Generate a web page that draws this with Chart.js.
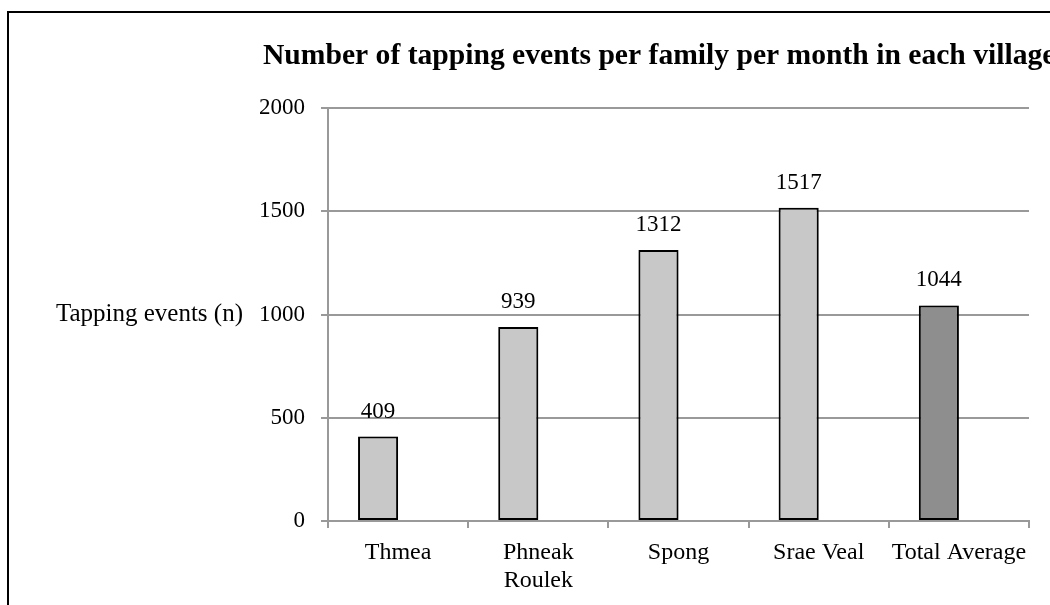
<!DOCTYPE html>
<html>
<head>
<meta charset="utf-8">
<script src="https://cdn.jsdelivr.net/npm/chart.js@4.4.1/dist/chart.umd.min.js"></script>
<style>
  html, body { margin: 0; padding: 0; background: #fff; overflow: hidden; }
  #wrap { position: relative; width: 1050px; height: 605px; overflow: hidden; }
  #frame { position: absolute; left: 7px; top: 11px; width: 1200px; height: 800px; border: 2px solid #000; }
  #c { position: absolute; left: 0; top: 0; }
</style>
</head>
<body>
<div id="wrap">
  <div id="frame"></div>
  <canvas id="c" width="1050" height="605"></canvas>
</div>
<script>
// Villages and the overall average
const categories = ['Thmea', ['Phneak', 'Roulek'], 'Spong', 'Srae Veal', 'Total Average'];
// Tapping events per family per month
const tappingEvents = [409, 939, 1312, 1517, 1044];
const barColors = ['#c8c8c8', '#c8c8c8', '#c8c8c8', '#c8c8c8', '#8e8e8e'];
const yTicks = [0, 500, 1000, 1500, 2000];
const emptySeries = [null, null, null, null, null];

const chartTitle = 'Number of tapping events per family per month in each village';
const yTitle = 'Tapping events (n)';
const serif = '"Liberation Serif", "Times New Roman", serif';

// Title, horizontal axis label and value labels drawn on the canvas
const annotations = {
  id: 'annotations',
  beforeDatasetsDraw(chart) {
    const ctx = chart.ctx;
    ctx.save();
    ctx.shadowColor = 'rgba(0,0,0,0.35)';
    ctx.shadowBlur = 7;
    ctx.shadowOffsetX = 1;
    ctx.shadowOffsetY = 1;
  },
  afterDatasetsDraw(chart) {
    chart.ctx.restore();
  },
  afterDraw(chart) {
    const ctx = chart.ctx;
    const area = chart.chartArea;
    ctx.save();
    ctx.fillStyle = '#000';
    // chart title
    ctx.font = 'bold 29.6px ' + serif;
    ctx.textAlign = 'left';
    ctx.textBaseline = 'middle';
    ctx.fillText(chartTitle, 263, 56);
    // y axis title, horizontal
    ctx.font = '25px ' + serif;
    ctx.textAlign = 'right';
    ctx.fillText(yTitle, 243, (area.top + area.bottom) / 2);
    // value labels above bars
    const meta = chart.getDatasetMeta(0);
    ctx.font = '23px ' + serif;
    ctx.textAlign = 'center';
    ctx.textBaseline = 'alphabetic';
    meta.data.forEach((bar, i) => {
      ctx.fillText(String(tappingEvents[i]), bar.x, bar.y - 19);
    });
    ctx.restore();
  }
};

new Chart(document.getElementById('c'), {
  type: 'bar',
  data: {
    labels: categories,
    datasets: [
      {
        data: tappingEvents,
        backgroundColor: barColors,
        borderColor: '#000',
        borderWidth: 2,
        borderSkipped: false,
        categoryPercentage: 80 / 140,
        barPercentage: 1
      },
      {
        data: emptySeries,
        backgroundColor: 'rgba(0,0,0,0)',
        categoryPercentage: 80 / 140,
        barPercentage: 1
      }
    ]
  },
  options: {
    responsive: false,
    animation: false,
    events: [],
    layout: { padding: { left: 0, right: 21, top: 108, bottom: 0 } },
    plugins: {
      legend: { display: false },
      title: { display: false },
      tooltip: { enabled: false }
    },
    scales: {
      x: {
        grid: {
          offset: true,
          drawOnChartArea: false,
          drawTicks: true,
          tickLength: 7,
          color: '#999',
          lineWidth: 2
        },
        border: { display: true, color: '#999', width: 2 },
        ticks: {
          color: '#000',
          font: { family: serif, size: 24, lineHeight: 1.17 },
          padding: 11,
          maxRotation: 0,
          autoSkip: false
        },
        afterFit(scale) { scale.height = 605 - 521; }
      },
      y: {
        min: 0,
        max: 2000,
        afterBuildTicks(scale) { scale.ticks = yTicks.map(v => ({ value: v })); },
        grid: {
          drawTicks: true,
          tickLength: 7,
          color: '#999',
          lineWidth: 2
        },
        border: { display: true, color: '#999', width: 2 },
        ticks: {
          color: '#000',
          font: { family: serif, size: 23 },
          padding: 16,
          callback: (v) => String(v)
        },
        afterFit(scale) { scale.width = 328; }
      }
    }
  },
  plugins: [annotations]
});
</script>
</body>
</html>
